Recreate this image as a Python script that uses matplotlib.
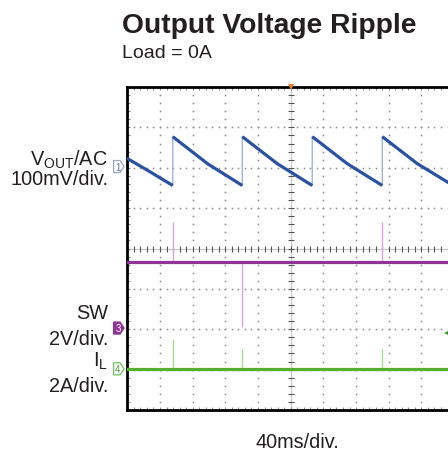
import numpy as np
import matplotlib
matplotlib.use("Agg")
import matplotlib.pyplot as plt
from matplotlib.patches import Polygon
from matplotlib.transforms import blended_transform_factory

plt.rcParams["font.family"] = ["Liberation Sans", "DejaVu Sans"]
plt.rcParams["mathtext.fontset"] = "custom"
plt.rcParams["mathtext.rm"] = "Liberation Sans"

# screen: 10 horizontal divisions of 40 ms, 8 vertical divisions
ms_per_div = 40
n_xdiv = 10
n_ydiv = 8

# Vout/AC trace (divisions from screen centre)
vout_t_ms = [0.0, 27.8, 55.6, 55.6, 98.2, 140.8, 140.8, 183.6, 226.4,
             226.4, 269.2, 312.1, 312.1, 355.0, 394.0]
vout_div = [2.23, 1.90, 1.56, 2.77, 2.10, 1.56, 2.77, 2.10, 1.56,
            2.77, 2.10, 1.56, 2.77, 2.10, 1.62]

# SW trace: flat level with short spikes
sw_level_div = -0.33
sw_spike_t_ms = [55.6, 140.8, 312.1]
sw_spike_div = [0.66, -1.94, 0.66]

# inductor current trace
il_level_div = -2.98
il_spike_t_ms = [55.6, 140.8, 312.1]
il_spike_div = [-2.24, -2.49, -2.49]

# channel ground markers
marker_labels = ["1", "3", "4"]
marker_div = [2.03, -1.97, -2.98]

vout_col = "#2a52a3"
vout_edge = "#9fb4de"
sw_col = "#8e3596"
sw_spike = "#d8a6da"
il_col = "#55b02e"
il_spike = "#a9dc90"
grid_col = "#8a8a8a"

fig = plt.figure(figsize=(4.48, 4.52), dpi=100)
ax = fig.add_axes([127.3 / 448, 1 - 411 / 452, 326.8 / 448, 323 / 452])
x_max = n_xdiv * ms_per_div
ax.set_xlim(0, x_max)
ax.set_ylim(-n_ydiv / 2, n_ydiv / 2)

# dotted graticule
fine_x = np.arange(0, x_max + 0.1, ms_per_div / 5)
fine_y = np.arange(-4, 4.01, 0.2)
for k in range(1, n_xdiv):
    if k == 5:
        continue
    ax.plot(np.full_like(fine_y, k * ms_per_div), fine_y, ls="none", marker="s",
            ms=1.1, mew=0, color=grid_col, zorder=1)
for k in range(-3, 4):
    if k == 0:
        continue
    ax.plot(fine_x, np.full_like(fine_x, k), ls="none", marker="s",
            ms=1.1, mew=0, color=grid_col, zorder=1)

# centre axes with small ticks
ax.axhline(0, color="#c8c8c8", lw=0.9, zorder=1)
ax.axvline(5 * ms_per_div, color="#c8c8c8", lw=0.9, zorder=1)
ax.plot(fine_x, np.zeros_like(fine_x), ls="none", marker="|", ms=4.5, mew=0.8,
        color="#555555", zorder=1)
ax.plot(np.full_like(fine_y, 5 * ms_per_div), fine_y, ls="none", marker="_",
        ms=4.5, mew=0.8, color="#555555", zorder=1)

# border ticks
ax.set_xticks(np.arange(0, x_max + 1, ms_per_div))
ax.set_xticks(fine_x, minor=True)
ax.set_yticks(np.arange(-4, 5, 1))
ax.set_yticks(fine_y, minor=True)
ax.tick_params(which="both", direction="in", length=2.5, width=0.8, color=grid_col,
               top=True, right=False, labelbottom=False, labelleft=False)
for side in ["left", "top", "bottom"]:
    ax.spines[side].set_linewidth(2.0)
ax.spines["right"].set_visible(False)

# traces
ax.plot(vout_t_ms, vout_div, color=vout_edge, lw=1.0, zorder=3)
start = 0
for i in range(1, len(vout_t_ms) + 1):
    if i == len(vout_t_ms) or vout_t_ms[i] == vout_t_ms[i - 1]:
        ax.plot(vout_t_ms[start:i], vout_div[start:i], color=vout_col, lw=2.3,
                solid_capstyle="butt", zorder=4)
        start = i

ax.vlines(sw_spike_t_ms, sw_level_div, sw_spike_div, color=sw_spike, lw=1.0, zorder=3)
ax.axhline(sw_level_div, color=sw_col, lw=2.3, zorder=4)
ax.vlines(il_spike_t_ms, il_level_div, il_spike_div, color=il_spike, lw=1.0, zorder=3)
ax.axhline(il_level_div, color=il_col, lw=2.3, zorder=4)

# trigger markers
ax.plot([5 * ms_per_div], [4], marker="v", ms=5, color="#f07b22", mew=0,
        clip_on=False, zorder=6)
ax.plot([392], [-2.1], marker="<", ms=6, color="#3f9a2a", mew=0, clip_on=False, zorder=6)

# channel tags left of the screen
tr = blended_transform_factory(ax.transAxes, ax.transData)
tag_w = 10.5 / 326.8
tag_h = 12 / 40.3
tag_styles = {
    "1": dict(fc="white", ec="#9aa6cc", tc="#5d6fa8"),
    "3": dict(fc=sw_col, ec=sw_col, tc="white"),
    "4": dict(fc="white", ec="#6cc35a", tc="#4aa63a"),
}
for lab, yv in zip(marker_labels, marker_div):
    st = tag_styles[lab]
    x0 = -0.042
    pts = [(x0, yv - tag_h / 2), (x0 + tag_w * 0.62, yv - tag_h / 2),
           (x0 + tag_w, yv), (x0 + tag_w * 0.62, yv + tag_h / 2),
           (x0, yv + tag_h / 2)]
    ax.add_patch(Polygon(pts, closed=True, transform=tr, fc=st["fc"], ec=st["ec"],
                         lw=0.9, clip_on=False, zorder=6))
    ax.text(x0 + tag_w * 0.42, yv, lab, transform=tr, ha="center", va="center",
            fontsize=7, color=st["tc"], clip_on=False, zorder=7)

# titles and channel labels
fig.text(122 / 448, 1 - 33 / 452, "Output Voltage Ripple", fontsize=20.3,
         fontweight="bold", ha="left", va="baseline", color="#231f20")
fig.text(122 / 448, 1 - 58 / 452, "Load = 0A", fontsize=14, ha="left",
         va="baseline", color="#231f20")

lab_x = 108 / 448
side_labels = [
    (166, r"V$_{\mathrm{OUT}}$/AC"),
    (185, "100mV/div."),
    (319, "SW"),
    (345, "2V/div."),
    (367, r"I$_{\mathrm{L}}$"),
    (392, "2A/div."),
]
for ypx, txt in side_labels:
    fig.text(lab_x, 1 - ypx / 452, txt, fontsize=14.3, ha="right", va="baseline",
             color="#231f20")

fig.text(297 / 448, 1 - 448 / 452, "40ms/div.", fontsize=14.3, ha="center",
         va="baseline", color="#231f20")

fig.savefig("out.png", dpi=100)
